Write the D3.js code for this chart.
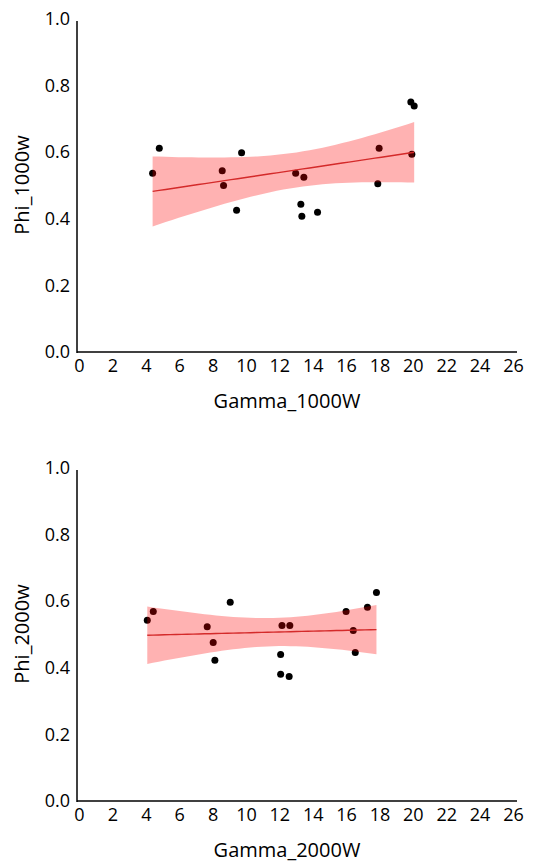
<!DOCTYPE html>
<html>
<head>
<meta charset="utf-8">
<script src="https://cdn.jsdelivr.net/npm/d3@7"></script>
<style>
  body { margin: 0; background: #fff; }
  svg text { font-family: "Open Sans", "Noto Sans", sans-serif; fill: #000; }
</style>
</head>
<body>
<svg width="535" height="864"></svg>
<script>
const xTicks = [0, 2, 4, 6, 8, 10, 12, 14, 16, 18, 20, 22, 24, 26];
const yTicks = [0, 0.2, 0.4, 0.6, 0.8, 1.0];

// top panel
const gamma1000 = [4.41, 4.81, 8.58, 8.66, 9.74, 9.44, 12.98, 13.47, 13.29, 13.35, 14.29, 17.98, 17.9, 19.94, 19.88, 20.08];
const phi1000 = [0.537, 0.612, 0.544, 0.5, 0.598, 0.426, 0.537, 0.525, 0.444, 0.408, 0.42, 0.612, 0.505, 0.594, 0.751, 0.739];

// bottom panel
const gamma2000 = [4.09, 4.45, 7.68, 8.04, 8.14, 9.06, 12.16, 12.63, 12.08, 12.08, 12.59, 16.0, 16.43, 16.55, 17.28, 17.82];
const phi2000 = [0.543, 0.569, 0.523, 0.476, 0.423, 0.597, 0.527, 0.527, 0.44, 0.381, 0.374, 0.569, 0.512, 0.446, 0.582, 0.626];

const svg = d3.select("svg");

// ordinary least squares fit with a 95% band for the mean
function fit(xs, ys) {
  const n = xs.length;
  const mx = d3.mean(xs), my = d3.mean(ys);
  let sxx = 0, sxy = 0;
  xs.forEach((x, i) => { sxx += (x - mx) ** 2; sxy += (x - mx) * (ys[i] - my); });
  const b = sxy / sxx, a = my - b * mx;
  let sse = 0;
  xs.forEach((x, i) => { sse += (ys[i] - a - b * x) ** 2; });
  const s = Math.sqrt(sse / (n - 2));
  const t = 2.145; // t(0.975, 14)
  const lo = d3.min(xs), hi = d3.max(xs);
  const pts = d3.range(0, 41).map(k => {
    const x = lo + (hi - lo) * k / 40;
    const yh = a + b * x;
    const se = s * Math.sqrt(1 / n + (x - mx) ** 2 / sxx);
    return { x, y: yh, y0: yh - t * se, y1: yh + t * se };
  });
  return pts;
}

const panel = (top, xs, ys, xTitle, yTitle) => {
  const x = d3.scaleLinear().domain([0, 26]).range([79, 513]);
  const y = d3.scaleLinear().domain([0, 1]).range([top + 333, top]);

  const g = svg.append("g");

  // points
  g.selectAll("circle")
    .data(xs.map((v, i) => [v, ys[i]]))
    .enter()
    .append("circle")
    .attr("cx", d => x(d[0]))
    .attr("cy", d => y(d[1]))
    .attr("r", 3.5)
    .attr("fill", "#000");

  const pts = fit(xs, ys);

  g.append("path")
    .datum(pts)
    .attr("d", d3.area().x(d => x(d.x)).y0(d => y(d.y0)).y1(d => y(d.y1)))
    .attr("fill", "rgba(255,0,0,0.3)");

  g.append("path")
    .datum(pts)
    .attr("d", d3.line().x(d => x(d.x)).y(d => y(d.y)))
    .attr("fill", "none")
    .attr("stroke", "#d42a2a")
    .attr("stroke-width", 1.4);

  // axes
  const xAxisG = g.append("g")
    .attr("transform", `translate(0, ${top + 333})`)
    .call(d3.axisBottom(x).tickValues(xTicks).tickSize(0).tickPadding(7).tickFormat(d3.format("d")));
  xAxisG.select(".domain").attr("d", `M77,0H517`).attr("stroke", "#000").attr("stroke-width", 1.5);
  xAxisG.selectAll("text").style("font-size", "18px");

  const yAxisG = g.append("g")
    .attr("transform", "translate(77, 0)")
    .call(d3.axisLeft(y).tickValues(yTicks).tickSize(0).tickPadding(7).tickFormat(d3.format(".1f")));
  yAxisG.select(".domain").attr("d", `M0,${top + 2}V${top + 334}`).attr("stroke", "#000").attr("stroke-width", 1.5);
  yAxisG.selectAll("text").style("font-size", "18px");

  g.append("text")
    .attr("x", 287)
    .attr("y", top + 389)
    .attr("text-anchor", "middle")
    .style("font-size", "20px")
    .text(xTitle);

  g.append("text")
    .attr("transform", `translate(29, ${top + 166}) rotate(-90)`)
    .attr("text-anchor", "middle")
    .style("font-size", "20px")
    .text(yTitle);
};

panel(19, gamma1000, phi1000, "Gamma_1000W", "Phi_1000w");
panel(468, gamma2000, phi2000, "Gamma_2000W", "Phi_2000w");
</script>
</body>
</html>
